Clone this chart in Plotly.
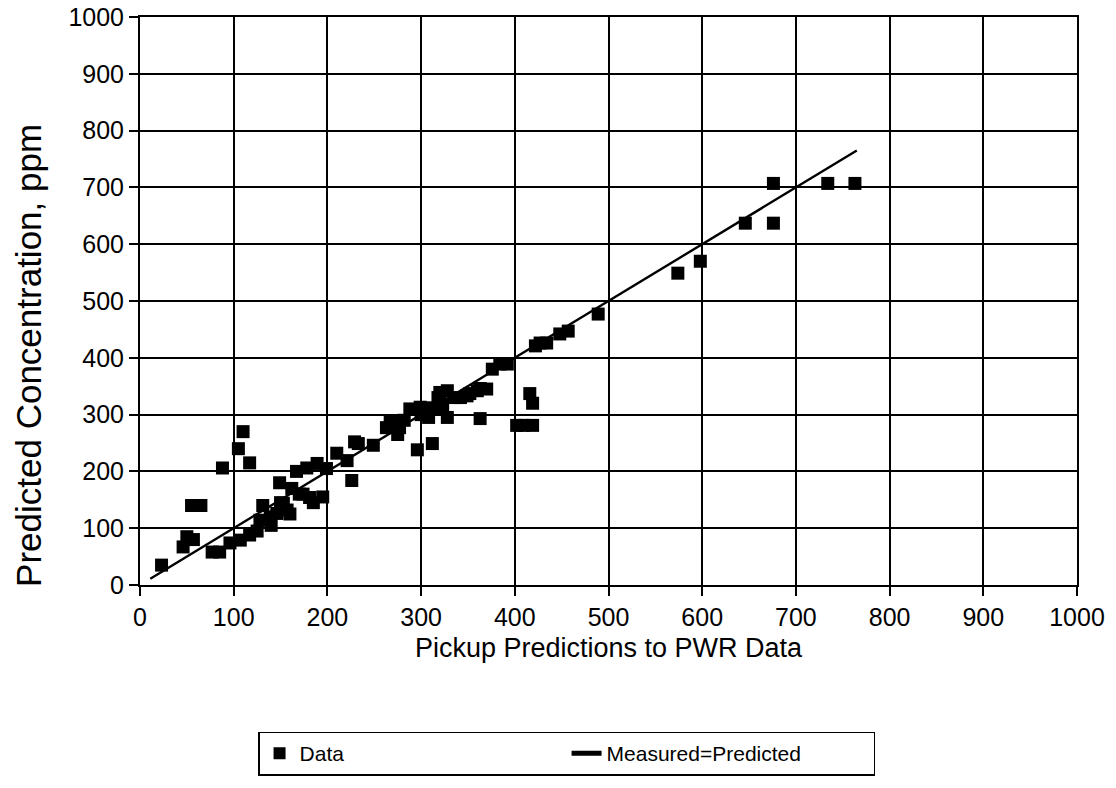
import plotly.graph_objects as go

# Measured pickup predictions (x) vs predicted concentration (y), ppm
measured = [
    23, 46, 50, 57, 55, 65, 77, 85, 96, 107, 117, 125,
    88, 105, 110, 117,
    128, 131, 139, 140, 146, 149, 150, 153, 157, 160, 162, 167, 170, 174,
    178, 181, 185, 189, 195, 199, 210, 221, 226, 229, 233, 249,
    263, 267, 270, 275, 277, 282, 288, 296, 299, 300, 306, 308, 312, 315,
    318, 320, 320, 323, 328, 328, 335, 342, 349, 352, 360, 363, 363, 370,
    376, 384, 392, 402, 409, 416, 419, 419, 422, 427, 434, 448, 457, 489,
    574, 598, 646, 676, 676, 734, 763,
]
predicted = [
    35, 67, 85, 80, 140, 140, 58, 58, 74, 79, 88, 95,
    206, 240, 270, 215,
    114, 140, 120, 105, 126, 180, 145, 144, 132, 125, 170, 200, 160, 160,
    206, 154, 145, 214, 155, 205, 232, 219, 184, 252, 249, 246,
    277, 289, 289, 265, 277, 290, 310, 238, 313, 300, 312, 295, 249, 310,
    330, 339, 325, 316, 342, 295, 330, 330, 333, 337, 342, 346, 293, 345,
    380, 389, 389, 281, 281, 337, 320, 281, 421, 426, 426, 442, 447, 477,
    549, 570, 637, 637, 707, 707, 707,
]

# Measured = Predicted reference line
line_x = [11, 765]
line_y = [11, 765]

ticks = list(range(0, 1001, 100))
font_family = "Liberation Sans, Arial, sans-serif"

fig = go.Figure()
fig.add_trace(go.Scatter(
    x=measured, y=predicted, mode="markers", name="Data",
    marker=dict(symbol="square", size=13, color="black",
                line=dict(width=0)),
))
fig.add_trace(go.Scatter(
    x=line_x, y=line_y, mode="lines", name="Measured=Predicted",
    line=dict(color="black", width=2.4),
))

axis_common = dict(
    range=[0, 1000], tickvals=ticks, ticktext=[str(t) for t in ticks],
    showgrid=True, gridcolor="black", gridwidth=2,
    showline=True, linecolor="black", linewidth=2, mirror=True,
    ticks="outside", ticklen=9, tickwidth=1.5, tickcolor="black",
    zeroline=False, automargin=False,
    tickfont=dict(family=font_family, size=25, color="black"),
)

fig.update_xaxes(
    **axis_common,
    title=dict(text="Pickup Predictions to PWR Data", standoff=8,
               font=dict(family=font_family, size=27, color="black")),
)
fig.update_yaxes(**axis_common)

# Vertical axis label, set a little below the plot's mid-height
fig.add_annotation(
    text="Predicted Concentration, ppm", textangle=-90,
    xref="paper", yref="paper", x=-0.1185, y=0.405,
    xanchor="center", yanchor="middle", showarrow=False,
    font=dict(family=font_family, size=35, color="black"),
)

fig.update_layout(
    width=1116, height=788,
    margin=dict(l=140, r=39, t=17, b=203),
    paper_bgcolor="white", plot_bgcolor="white",
    showlegend=True,
    legend=dict(
        orientation="h", x=0.126, y=-0.258, xanchor="left", yanchor="top",
        bordercolor="black", borderwidth=1.5, bgcolor="white",
        entrywidth=262, entrywidthmode="pixels",
        font=dict(family=font_family, size=21, color="black"),
        itemsizing="constant",
    ),
)

fig.write_html("out.html")
